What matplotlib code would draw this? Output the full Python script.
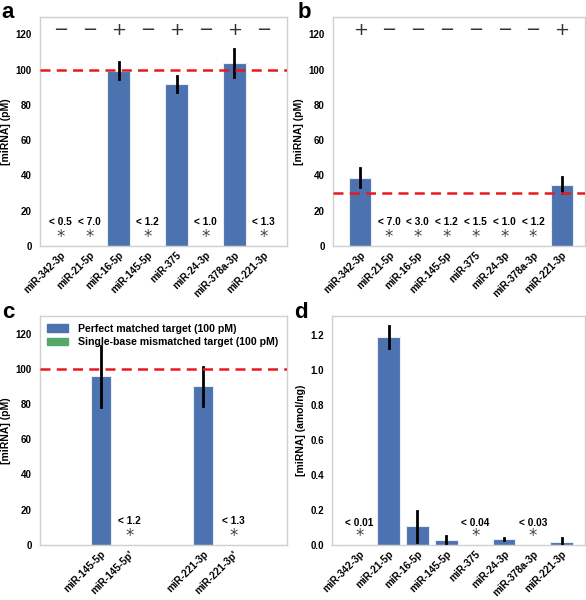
import numpy as np
import matplotlib
matplotlib.use('Agg')
import matplotlib.pyplot as plt
from matplotlib.patches import Patch

plt.rcParams['font.family'] = ['Liberation Sans', 'DejaVu Sans']

# 数据
mirnas = ['miR-342-3p', 'miR-21-5p', 'miR-16-5p', 'miR-145-5p',
          'miR-375', 'miR-24-3p', 'miR-378a-3p', 'miR-221-3p']

# a
a_vals = [0, 0, 99.5, 0, 92, 0, 104, 0]
a_err = [0, 0, 5, 0, 4.7, 0, 8, 0]
a_signs = ['−', '−', '+', '−', '+', '−', '+', '−']
a_limits = ['< 0.5', '< 7.0', None, '< 1.2', None, '< 1.0', None, '< 1.3']
a_ref = 100

# b
b_vals = [38.6, 0, 0, 0, 0, 0, 0, 34.5]
b_err = [5.4, 0, 0, 0, 0, 0, 0, 4.6]
b_signs = ['+', '−', '−', '−', '−', '−', '−', '+']
b_limits = [None, '< 7.0', '< 3.0', '< 1.2', '< 1.5', '< 1.0', '< 1.2', None]
b_ref = 30

# c
c_labels = ['miR-145-5p', "miR-145-5p'", 'miR-221-3p', "miR-221-3p'"]
c_vals = [95.9, 0, 90.2, 0]
c_err = [17.4, 0, 11.1, 0]
c_limits = [None, '< 1.2', None, '< 1.3']
c_ref = 100

# d
d_vals = [0, 1.19, 0.105, 0.029, 0, 0.034, 0, 0.017]
d_err = [0, 0.065, 0.088, 0.02, 0, 0.004, 0, 0.02]
d_limits = ['< 0.01', None, None, None, '< 0.04', None, '< 0.03', None]

BLUE = '#4C72B0'
GREEN = '#55A868'
RED = '#E8191E'

fig = plt.figure(figsize=(5.86, 6.0), dpi=100)
ax_a = fig.add_axes([0.068, 0.590, 0.422, 0.382])
ax_b = fig.add_axes([0.568, 0.590, 0.430, 0.382])
ax_c = fig.add_axes([0.068, 0.092, 0.422, 0.381])
ax_d = fig.add_axes([0.567, 0.092, 0.431, 0.381])


def style_axes(ax, ylabel):
    for s in ax.spines.values():
        s.set_color('#d0d0d0')
        s.set_linewidth(1.0)
    ax.tick_params(axis='y', length=0, labelsize=7, pad=6)
    ax.tick_params(axis='x', length=0, pad=3)
    for lab in ax.get_yticklabels():
        lab.set_fontweight('bold')
    ax.set_ylabel(ylabel, fontsize=7.5, fontweight='bold', labelpad=3)


def draw_bars(ax, x, vals, errs, width, color=BLUE):
    ax.bar(x, vals, width=width, color=color, edgecolor='#e8eef7', linewidth=0.8, zorder=2)
    for xi, v, e in zip(x, vals, errs):
        if e > 0:
            ax.plot([xi, xi], [v - e, v + e], color='black', lw=2, zorder=3)


def draw_limits(ax, x, limits, y_txt, y_star):
    for xi, t in zip(x, limits):
        if t is None:
            continue
        ax.text(xi, y_txt, t, ha='center', va='center', fontsize=7.3, fontweight='bold', zorder=4)
        ax.text(xi, y_star, '*', ha='center', va='center', fontsize=12, color='#444444',
                family='DejaVu Sans', zorder=4)


def set_xlabels(ax, x, labels):
    ax.set_xticks(x)
    ax.set_xticklabels(labels, rotation=45, ha='right', rotation_mode='anchor',
                       fontsize=7.2, fontweight='bold')


x8 = np.arange(len(mirnas))

# a
draw_bars(ax_a, x8, a_vals, a_err, 0.78)
ax_a.axhline(a_ref, color=RED, ls=(0, (4, 2.5)), lw=1.8, zorder=3)
for xi, s in zip(x8, a_signs):
    ax_a.text(xi, 122.5, s, ha='center', va='center', fontsize=13, color='#333333', family='DejaVu Sans')
draw_limits(ax_a, x8, a_limits, 13.7, 5.0)
ax_a.set_xlim(-0.72, 7.82)
ax_a.set_ylim(0, 130)
ax_a.set_yticks([0, 20, 40, 60, 80, 100, 120])
set_xlabels(ax_a, x8, mirnas)
style_axes(ax_a, '[miRNA] (pM)')

# b
draw_bars(ax_b, x8, b_vals, b_err, 0.78)
ax_b.axhline(b_ref, color=RED, ls=(0, (4, 2.5)), lw=1.8, zorder=3)
for xi, s in zip(x8, b_signs):
    ax_b.text(xi, 122.5, s, ha='center', va='center', fontsize=13, color='#333333', family='DejaVu Sans')
draw_limits(ax_b, x8, b_limits, 13.7, 5.0)
ax_b.set_xlim(-0.95, 7.8)
ax_b.set_ylim(0, 130)
ax_b.set_yticks([0, 20, 40, 60, 80, 100, 120])
set_xlabels(ax_b, x8, mirnas)
style_axes(ax_b, '[miRNA] (pM)')

# c
xc = [0, 1, 3.55, 4.6]
draw_bars(ax_c, xc, c_vals, c_err, 0.69)
ax_c.axhline(c_ref, color=RED, ls=(0, (4, 2.5)), lw=1.8, zorder=3)
draw_limits(ax_c, xc, c_limits, 13.7, 5.0)
ax_c.set_xlim(-2.11, 6.47)
ax_c.set_ylim(0, 130)
ax_c.set_yticks([0, 20, 40, 60, 80, 100, 120])
set_xlabels(ax_c, xc, c_labels)
style_axes(ax_c, '[miRNA] (pM)')
handles = [Patch(color=BLUE, label='Perfect matched target (100 pM)'),
           Patch(color=GREEN, label='Single-base mismatched target (100 pM)')]
leg = ax_c.legend(handles=handles, loc='upper left', frameon=False,
                  prop={'weight': 'bold', 'size': 7.6}, handlelength=2.0, handleheight=0.75,
                  handletextpad=0.9, borderaxespad=0.3, labelspacing=0.35,
                  bbox_to_anchor=(0.0, 1.0))

# d
draw_bars(ax_d, x8, d_vals, d_err, 0.78)
draw_limits(ax_d, x8, d_limits, 0.124, 0.052)
ax_d.set_xlim(-0.95, 7.8)
ax_d.set_ylim(0, 1.31)
ax_d.set_yticks([0.0, 0.2, 0.4, 0.6, 0.8, 1.0, 1.2])
ax_d.set_yticklabels(['0.0', '0.2', '0.4', '0.6', '0.8', '1.0', '1.2'])
set_xlabels(ax_d, x8, mirnas)
style_axes(ax_d, '[miRNA] (amol/ng)')

# 面板字母
for lab, (fx, fy) in zip('abcd', [(0.003, 0.997), (0.507, 0.997), (0.003, 0.497), (0.502, 0.497)]):
    fig.text(fx, fy, lab, fontsize=16, fontweight='bold', ha='left', va='top')

fig.savefig('out.png', dpi=100)
